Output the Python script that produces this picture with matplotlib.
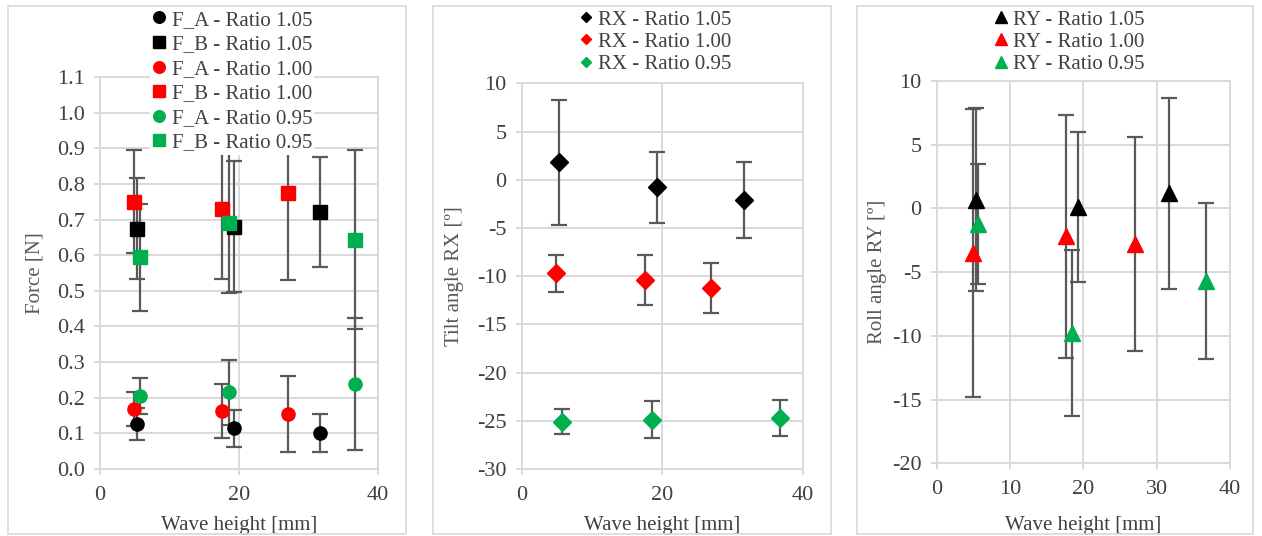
import matplotlib
matplotlib.use("Agg")
import matplotlib.pyplot as plt
from matplotlib.patches import Rectangle

plt.rcParams['font.family'] = ['Liberation Serif', 'DejaVu Serif']
plt.rcParams['axes.unicode_minus'] = False

# wave heights for the three ratios
x_105 = [5.3, 19.3, 31.7]
x_100 = [4.9, 17.6, 27.0]
x_095 = [5.7, 18.5, 36.7]

# forces [N]
fa_105 = [0.126, 0.114, 0.101]
fa_105_err = [0.046, 0.052, 0.054]
fb_105 = [0.674, 0.680, 0.721]
fb_105_err = [0.142, 0.184, 0.155]
fa_100 = [0.168, 0.163, 0.154]
fa_100_err = [0.047, 0.075, 0.106]
fb_100 = [0.750, 0.729, 0.774]
fb_100_err = [0.145, 0.196, 0.244]
fa_095 = [0.205, 0.215, 0.238]
fa_095_err = [0.051, 0.092, 0.186]
fb_095 = [0.594, 0.691, 0.644]
fb_095_err = [0.150, 0.198, 0.250]

# tilt angle RX
rx_105 = [1.8, -0.8, -2.1]
rx_105_err = [6.5, 3.7, 3.9]
rx_100 = [-9.7, -10.4, -11.2]
rx_100_err = [1.9, 2.55, 2.6]
rx_095 = [-25.1, -24.9, -24.7]
rx_095_err = [1.3, 1.93, 1.86]

# roll angle RY
ry_105 = [0.7, 0.1, 1.2]
ry_105_err = [7.2, 5.9, 7.5]
ry_100 = [-3.5, -2.2, -2.8]
ry_100_err = [11.3, 9.5, 8.4]
ry_095 = [-1.2, -9.8, -5.7]
ry_095_err = [4.7, 6.5, 6.1]

BLACK = '#000000'
RED = '#ff0000'
GREEN = '#00b050'
GRID = '#d9d9d9'
ERR = '#595959'
TXT = '#404040'
FS = 15
TFS = 16

W, H = 1262, 536
fig = plt.figure(figsize=(W / 100, H / 100), dpi=100)


def px_axes(x0, x1, ytop, ybot):
    return fig.add_axes([x0 / W, (H - ybot) / H, (x1 - x0) / W, (ybot - ytop) / H])


def style(ax, xlim, ylim, yticks, xticks):
    ax.set_xlim(*xlim)
    ax.set_ylim(*ylim)
    ax.set_xticks(xticks)
    ax.set_yticks(yticks)
    ax.grid(True, color=GRID, linewidth=1.4)
    ax.set_axisbelow(True)
    for s in ax.spines.values():
        s.set_color(GRID)
        s.set_linewidth(1.4)
    ax.tick_params(direction='out', length=4, width=1.4, color=GRID,
                   labelsize=TFS, labelcolor=TXT, pad=7)
    ax.tick_params(axis='x', pad=8)


def eb(ax, x, y, e, color, marker, ms, label):
    ax.errorbar(x, y, yerr=e, fmt=marker, color=color, ms=ms, mec=color,
                ecolor=ERR, elinewidth=1.6, capsize=5.5, capthick=1.6,
                label=label)


# panel frames
for (a, b) in [(8, 406), (433, 831), (857, 1253)]:
    fig.patches.append(Rectangle((a / W, 2 / H), (b - a) / W, 528 / H,
                                 transform=fig.transFigure, fill=False,
                                 edgecolor=GRID, linewidth=1.2))

# ---- force ----
ax1 = px_axes(100, 378, 77, 469)
style(ax1, (0, 40), (0, 1.1), [i / 10 for i in range(12)], [0, 20, 40])
ax1.set_yticklabels(['%.1f' % (i / 10) for i in range(12)])
eb(ax1, x_105, fa_105, fa_105_err, BLACK, 'o', 9.5, 'F_A - Ratio 1.05')
eb(ax1, x_105, fb_105, fb_105_err, BLACK, 's', 9.5, 'F_B - Ratio 1.05')
eb(ax1, x_100, fa_100, fa_100_err, RED, 'o', 9.5, 'F_A - Ratio 1.00')
eb(ax1, x_100, fb_100, fb_100_err, RED, 's', 9.5, 'F_B - Ratio 1.00')
eb(ax1, x_095, fa_095, fa_095_err, GREEN, 'o', 9.5, 'F_A - Ratio 0.95')
eb(ax1, x_095, fb_095, fb_095_err, GREEN, 's', 9.5, 'F_B - Ratio 0.95')
ax1.set_ylabel('Force [N]', fontsize=FS, color='#595959')
ax1.yaxis.set_label_coords(-55 / 278, 0.5)
ax1.set_xlabel('Wave height [mm]', fontsize=FS, color=TXT)
ax1.xaxis.set_label_coords(0.5, -0.12)

# ---- tilt ----
ax2 = px_axes(521.7, 802.7, 83.3, 469)
style(ax2, (0, 40), (-30, 10), list(range(-30, 11, 5)), [0, 20, 40])
eb(ax2, x_105, rx_105, rx_105_err, BLACK, 'D', 9, 'RX - Ratio 1.05')
eb(ax2, x_100, rx_100, rx_100_err, RED, 'D', 9, 'RX - Ratio 1.00')
eb(ax2, x_095, rx_095, rx_095_err, GREEN, 'D', 9, 'RX - Ratio 0.95')
ax2.set_ylabel('Tilt angle RX [º]', fontsize=FS, color='#595959')
ax2.yaxis.set_label_coords(-58 / 281, 0.5)
ax2.set_xlabel('Wave height [mm]', fontsize=FS, color=TXT)
ax2.xaxis.set_label_coords(0.5, -0.122)

# ---- roll ----
ax3 = px_axes(936.7, 1230, 81, 463.3)
style(ax3, (0, 40), (-20, 10), list(range(-20, 11, 5)), [0, 10, 20, 30, 40])
eb(ax3, x_105, ry_105, ry_105_err, BLACK, '^', 11.5, 'RY - Ratio 1.05')
eb(ax3, x_100, ry_100, ry_100_err, RED, '^', 11.5, 'RY - Ratio 1.00')
eb(ax3, x_095, ry_095, ry_095_err, GREEN, '^', 11.5, 'RY - Ratio 0.95')
ax3.set_ylabel('Roll angle RY [º]', fontsize=FS, color='#595959')
ax3.yaxis.set_label_coords(-50 / 293.3, 0.5)
ax3.set_xlabel('Wave height [mm]', fontsize=FS, color=TXT)
ax3.xaxis.set_label_coords(0.5, -0.138)


def legend(ax, cx, spacing, mscale):
    h, l = ax.get_legend_handles_labels()
    h = [x[0] for x in h]
    leg = fig.legend(h, l, loc='upper center', bbox_to_anchor=(cx / W, 1 - 8 / H),
                     fontsize=FS, frameon=True, facecolor='white', edgecolor='none',
                     framealpha=1, markerscale=mscale, handlelength=0.7,
                     handletextpad=0.25, labelspacing=spacing, borderpad=0.1,
                     borderaxespad=0)
    for t in leg.get_texts():
        t.set_color(TXT)
    return leg


legend(ax1, 232, 0.24, 0.88)
legend(ax2, 655, 0.12, 0.6)
legend(ax3, 1069, 0.12, 0.8)

fig.savefig('out.png', dpi=100)
